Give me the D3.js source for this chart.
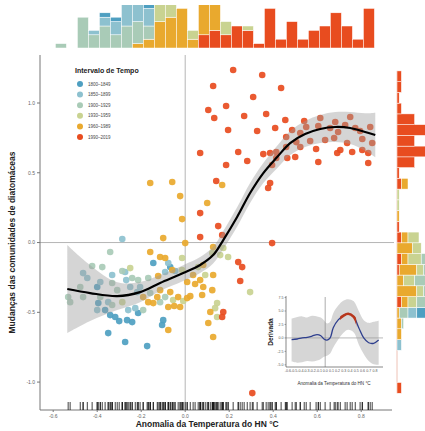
<html>
<head>
<script src="https://d3js.org/d3.v7.min.js"></script>
<style>
  body { margin: 0; padding: 0; background: #fff; }
  svg text { font-family: "Liberation Sans", Arial, sans-serif; }
</style>
</head>
<body>
<svg id="chart" width="425" height="431"></svg>
<script>
// time intervals (legend) and colours
const periods = ["1800–1849", "1850–1899", "1900–1929", "1930–1959", "1960–1989", "1990–2019"];
const periodColors = ["#4e9fc1", "#8dc1cf", "#a9cbb7", "#c9d391", "#e9a92e", "#e84c1f"];

// scatter points [temperature anomaly, community change] per interval
const points1 = [[-0.145,-0.147],[-0.068,-0.176],[-0.400,-0.319],[-0.395,-0.434],[-0.364,-0.484],[-0.341,-0.520],[-0.318,-0.534],[-0.300,-0.563],[-0.264,-0.556],[-0.241,-0.570],[-0.214,-0.505],[-0.100,-0.556],[-0.105,-0.591],[-0.350,-0.649],[-0.273,-0.713],[-0.173,-0.742]];
const points2 = [[-0.286,0.025],[-0.077,-0.147],[-0.464,-0.219],[-0.445,-0.254],[-0.091,-0.211],[-0.045,-0.204],[-0.268,-0.269],[-0.386,-0.283],[-0.250,-0.319],[-0.218,-0.355],[-0.350,-0.427],[-0.400,-0.484],[-0.259,-0.484],[-0.227,-0.470],[-0.332,-0.233],[-0.273,-0.211],[-0.205,-0.319]];
const points3 = [[-0.341,-0.068],[-0.423,-0.168],[-0.377,-0.176],[-0.241,-0.254],[-0.286,-0.204],[-0.332,-0.290],[-0.309,-0.341],[-0.532,-0.391],[-0.523,-0.427],[-0.464,-0.391],[-0.332,-0.448],[-0.159,-0.362],[-0.114,-0.427],[-0.091,-0.391],[-0.191,-0.484],[-0.477,-0.319],[-0.386,-0.391],[-0.214,-0.269],[-0.168,-0.254]];
const points4 = [[0.173,-0.039],[-0.014,-0.111],[0.123,-0.075],[0.159,-0.090],[0.195,-0.104],[0.295,-0.355],[-0.014,-0.197],[0.059,-0.176],[0.091,-0.233],[-0.250,-0.183],[-0.286,-0.427],[-0.055,-0.412],[-0.009,-0.419],[0.145,-0.434],[0.136,-0.470],[0.145,-0.534]];
const points5 = [[-0.159,0.427],[-0.059,0.434],[-0.023,0.333],[0.168,0.412],[0.100,0.283],[-0.014,0.168],[-0.100,0.032],[0.000,-0.004],[0.127,-0.032],[-0.159,-0.068],[-0.114,-0.104],[-0.091,-0.111],[-0.123,-0.240],[0.036,-0.233],[0.082,-0.161],[0.127,-0.233],[0.082,-0.319],[0.123,-0.341],[0.077,-0.376],[0.009,-0.283],[0.045,-0.297],[-0.191,-0.391],[-0.168,-0.427],[-0.127,-0.391],[-0.068,-0.355],[-0.032,-0.391],[0.009,-0.398],[-0.023,-0.462],[-0.050,-0.455],[-0.077,-0.462],[0.023,-0.384],[-0.145,-0.434],[0.114,-0.498],[0.105,-0.577],[0.127,-0.677],[-0.077,-0.627],[-0.059,-0.197],[0.068,-0.269],[-0.114,-0.341]];
const points6 = [[0.218,1.237],[0.350,1.201],[0.127,1.122],[0.436,1.108],[0.309,1.043],[0.186,0.979],[0.105,0.950],[0.132,0.892],[0.268,0.907],[0.368,0.921],[0.455,0.878],[0.541,0.871],[0.614,0.892],[0.682,0.864],[0.750,0.900],[0.486,0.806],[0.550,0.828],[0.605,0.835],[0.659,0.821],[0.727,0.842],[0.795,0.799],[0.841,0.828],[0.523,0.785],[0.695,0.792],[0.773,0.821],[0.409,0.821],[0.195,0.806],[0.327,0.799],[0.850,0.713],[0.805,0.742],[0.636,0.735],[0.568,0.728],[0.459,0.756],[0.736,0.713],[0.505,0.720],[0.677,0.749],[0.805,0.663],[0.705,0.663],[0.595,0.670],[0.523,0.685],[0.459,0.685],[0.414,0.649],[0.068,0.642],[0.241,0.649],[0.355,0.634],[0.386,0.642],[0.691,0.642],[0.759,0.649],[0.832,0.642],[0.414,0.606],[0.464,0.606],[0.500,0.613],[0.605,0.577],[0.832,0.570],[0.395,0.556],[0.186,0.556],[0.282,0.584],[0.141,0.441],[0.386,0.427],[0.377,0.391],[0.068,0.211],[0.150,0.118],[0.168,0.054],[0.068,0.039],[0.395,-0.004],[0.241,-0.140],[0.259,-0.176],[0.250,-0.276],[0.173,-0.498],[0.168,-0.534],[0.305,-1.079]];
const allPoints = [points1, points2, points3, points4, points5, points6];

// smooth fit and its confidence band
const fitX  = [-0.536,-0.432,-0.309,-0.205,-0.114,-0.009,0.068,0.127,0.173,0.236,0.295,0.355,0.418,0.477,0.545,0.614,0.682,0.750,0.818,0.864];
const fitY  = [-0.333,-0.362,-0.384,-0.355,-0.290,-0.219,-0.161,-0.090,0.018,0.183,0.355,0.498,0.613,0.713,0.778,0.814,0.828,0.821,0.792,0.771];
const fitLo = [-0.648,-0.562,-0.484,-0.427,-0.347,-0.276,-0.218,-0.150,-0.047,0.113,0.283,0.426,0.533,0.627,0.685,0.714,0.721,0.706,0.657,0.611];
const fitHi = [-0.018,-0.162,-0.284,-0.283,-0.233,-0.162,-0.104,-0.030,0.083,0.253,0.427,0.570,0.693,0.799,0.871,0.914,0.935,0.936,0.927,0.931];

// top marginal histogram (x bins), counts per interval
const topBinStart = -0.59, topBinWidth = 0.05;
const topCounts = [
  [0,0,0,0,1,1,2,2,2,0,0,0,0,0,0,0,0,0,0,0,0,0,0,0,0,0,0,0,0],
  [0,0,0,1,2,3,5,4,4,0,0,0,0,0,0,0,0,0,0,0,0,0,0,0,0,0,0,0,0],
  [1,0,7,3,5,3,5,5,3,1,1,0,0,0,0,0,0,0,0,0,0,0,0,0,0,0,0,0,0],
  [0,0,0,0,0,0,0,0,0,4,3,0,2,0,0,3,0,1,0,0,0,0,0,0,0,0,0,0,0],
  [0,0,0,0,0,0,0,1,2,6,7,9,2,8,7,0,0,0,0,0,0,0,0,0,0,0,0,0,0],
  [0,0,0,0,0,0,0,0,0,0,0,0,0,3,4,3,5,4,1,9,2,6,2,4,5,8,5,2,9]
];

// right marginal histogram (y bins), counts per interval
const rightBinStart = -1.08, rightBinWidth = 0.077;
const rightCounts = [
  [0,0,0,0,0,0,0,4,2,1,0,0,0,0,0,0,0,0,0,0,0,0,0,0,0,0,0,0,0,0],
  [0,0,0,0,2,0,0,4,3,3,3,2,0,0,0,0,0,0,0,0,0,0,0,0,0,0,0,0,0,0],
  [0,0,0,0,0,0,1,4,5,4,5,4,2,0,0,0,0,0,0,0,0,0,0,0,0,0,0,0,0,0],
  [0,0,0,0,0,0,0,0,4,3,5,3,6,4,5,0,0,1,1,0,0,0,0,0,0,0,0,0,0,0],
  [0,0,0,0,0,2,2,1,3,9,3,8,3,7,3,0,1,0,0,3,0,0,0,0,0,0,0,0,0,0],
  [2,0,0,0,0,0,0,0,2,0,0,1,2,0,2,1,0,0,0,2,1,8,13,8,13,8,2,1,2,2]
];

const xTicks = [-0.6, -0.4, -0.2, 0, 0.2, 0.4, 0.6, 0.8];
const yTicks = [-1, -0.5, 0, 0.5, 1];

// inset: derivative of the fit
const derivX  = [-0.54,-0.45,-0.37,-0.29,-0.21,-0.13,-0.07,-0.02,0.03,0.08,0.13,0.21,0.29,0.37,0.46,0.54,0.62,0.70,0.78,0.86];
const derivY  = [-0.3,-0.2,0.0,0.1,0.35,0.6,0.4,-0.2,-0.4,0.0,1.9,3.35,4.1,4.5,3.9,1.9,0.0,-0.9,-1.0,-0.4];
const derivLo = [-4.4,-4.6,-4.5,-4.3,-4.4,-4.2,-3.9,-3.5,-3.3,-2.9,-1.8,-0.3,0.9,1.5,1.0,-1.2,-3.0,-4.3,-4.9,-5.0];
const derivHi = [3.6,3.9,4.0,3.8,4.1,4.0,3.8,3.3,2.7,3.0,4.6,6.0,6.9,7.2,6.8,5.0,3.3,2.8,3.0,3.2];
const significantRange = [0.24, 0.5];
const insetXTicks = [-0.6,-0.5,-0.4,-0.3,-0.2,-0.1,0,0.1,0.2,0.3,0.4,0.5,0.6,0.7,0.8];
const insetYTicks = [-5, -2.5, 0, 2.5, 5, 7.5];

const svg = d3.select("#chart");
const fmt = (d) => d3.format(".1f")(d).replace("−", "-");

const x = d3.scaleLinear().domain([-0.66, 0.94]).range([40, 392]);
const y = d3.scaleLinear().domain([-1.2, 1.344]).range([410, 55]);

// reference lines
svg.append("line").attr("x1", x(0)).attr("x2", x(0)).attr("y1", 55).attr("y2", 410)
  .attr("stroke", "#b5b5b5").attr("stroke-width", 1);
svg.append("line").attr("x1", 40).attr("x2", 394).attr("y1", y(0)).attr("y2", y(0))
  .attr("stroke", "#b5b5b5").attr("stroke-width", 1);

// axes lines
svg.append("line").attr("x1", 40).attr("x2", 40).attr("y1", 55).attr("y2", 410).attr("stroke", "#777");
svg.append("line").attr("x1", 40).attr("x2", 392).attr("y1", 410).attr("y2", 410).attr("stroke", "#777");

// y ticks
svg.selectAll(".ytick").data(yTicks).enter().append("line")
  .attr("x1", 37).attr("x2", 40).attr("y1", (d) => y(d)).attr("y2", (d) => y(d)).attr("stroke", "#777");
svg.selectAll(".ylab").data(yTicks).enter().append("text")
  .attr("x", 35).attr("y", (d) => y(d) + 1.8).attr("text-anchor", "end")
  .attr("font-size", 5).attr("fill", "#666").text(fmt);

// x ticks
svg.selectAll(".xtick").data(xTicks).enter().append("line")
  .attr("x1", (d) => x(d)).attr("x2", (d) => x(d)).attr("y1", 410).attr("y2", 412).attr("stroke", "#777");
svg.selectAll(".xlab").data(xTicks).enter().append("text")
  .attr("x", (d) => x(d)).attr("y", 417.5).attr("text-anchor", "middle")
  .attr("font-size", 5).attr("fill", "#666").text(fmt);

// axis titles
svg.append("text").attr("x", x(0.1)).attr("y", 427).attr("text-anchor", "middle")
  .attr("font-size", 8.5).attr("font-weight", "bold").attr("fill", "#222")
  .text("Anomalia da Temperatura do HN °C");
svg.append("text").attr("transform", `translate(15,${y(0)}) rotate(-90)`).attr("text-anchor", "middle")
  .attr("font-size", 8.5).attr("font-weight", "bold").attr("fill", "#222")
  .text("Mudanças das comunidades de diatomáceas");

// scatter points
allPoints.forEach((pts, i) => {
  svg.append("g").selectAll("circle").data(pts).enter().append("circle")
    .attr("cx", (d) => x(d[0])).attr("cy", (d) => y(d[1])).attr("r", 3.3)
    .attr("fill", periodColors[i]).attr("opacity", 0.92);
});

// rug
const rugXs = allPoints.flat().map((d) => d[0]);
svg.append("g").selectAll("line").data(rugXs).enter().append("line")
  .attr("x1", (d) => x(d)).attr("x2", (d) => x(d)).attr("y1", 402).attr("y2", 410)
  .attr("stroke", "#111").attr("stroke-width", 0.8);

// fit band + line
const fitRows = fitX.map((v, i) => ({ x: v, y: fitY[i], lo: fitLo[i], hi: fitHi[i] }));
svg.append("path").datum(fitRows)
  .attr("d", d3.area().x((d) => x(d.x)).y0((d) => y(d.lo)).y1((d) => y(d.hi)).curve(d3.curveCatmullRom))
  .attr("fill", "#9a9a9a").attr("opacity", 0.42);
svg.append("path").datum(fitRows)
  .attr("d", d3.line().x((d) => x(d.x)).y((d) => y(d.y)).curve(d3.curveCatmullRom))
  .attr("fill", "none").attr("stroke", "#000").attr("stroke-width", 2.2);

// legend
const lg = svg.append("g");
lg.append("text").attr("x", 75).attr("y", 73).attr("font-size", 7).attr("font-weight", "bold")
  .attr("fill", "#222").text("Intervalo de Tempo");
periods.forEach((p, i) => {
  lg.append("circle").attr("cx", 80).attr("cy", 84 + i * 10.6).attr("r", 3).attr("fill", periodColors[i]);
  lg.append("text").attr("x", 88).attr("y", 85.6 + i * 10.6).attr("font-size", 4.5)
    .attr("fill", "#444").text(p);
});

// top histogram
svg.append("defs").append("clipPath").attr("id", "topclip")
  .append("rect").attr("x", 0).attr("y", 5).attr("width", 425).attr("height", 50);
const hTop = d3.scaleLinear().domain([0, 10]).range([48, 4]);
const topG = svg.append("g").attr("clip-path", "url(#topclip)");
topCounts[0].forEach((_, b) => {
  let acc = 0;
  const x0 = topBinStart + b * topBinWidth;
  for (let p = 5; p >= 0; p--) {
    const c = topCounts[p][b];
    if (!c) continue;
    topG.append("rect").attr("x", x(x0)).attr("width", x(x0 + topBinWidth) - x(x0))
      .attr("y", hTop(acc + c)).attr("height", hTop(acc) - hTop(acc + c))
      .attr("fill", periodColors[p]).attr("stroke", "#fff").attr("stroke-width", 0.5);
    acc += c;
  }
});

// right histogram
const hRight = d3.scaleLinear().domain([0, 10]).range([397, 419]);
svg.append("line").attr("x1", 397).attr("x2", 397)
  .attr("y1", y(rightBinStart)).attr("y2", y(rightBinStart + 30 * rightBinWidth))
  .attr("stroke", "#eab3a3").attr("stroke-width", 0.8);
const rightG = svg.append("g");
rightCounts[0].forEach((_, b) => {
  let acc = 0;
  const y0 = rightBinStart + b * rightBinWidth;
  for (let p = 5; p >= 0; p--) {
    const c = rightCounts[p][b];
    if (!c) continue;
    rightG.append("rect").attr("y", y(y0 + rightBinWidth)).attr("height", y(y0) - y(y0 + rightBinWidth))
      .attr("x", hRight(acc)).attr("width", hRight(acc + c) - hRight(acc))
      .attr("fill", periodColors[p]).attr("stroke", "#fff").attr("stroke-width", 0.5);
    acc += c;
  }
});

// inset
const ins = svg.append("g");
ins.append("rect").attr("x", 262).attr("y", 290).attr("width", 130).attr("height", 100).attr("fill", "#fff");
const ix = d3.scaleLinear().domain([-0.63, 0.93]).range([286, 383]);
const iy = d3.scaleLinear().domain([-5.4, 7.6]).range([367, 297]);
const derivRows = derivX.map((v, i) => ({ x: v, y: derivY[i], lo: derivLo[i], hi: derivHi[i] }));
ins.append("path").datum(derivRows)
  .attr("d", d3.area().x((d) => ix(d.x)).y0((d) => iy(d.lo)).y1((d) => iy(d.hi)).curve(d3.curveCatmullRom))
  .attr("fill", "#d6d6d6");
ins.append("line").attr("x1", 286).attr("x2", 383).attr("y1", iy(0)).attr("y2", iy(0))
  .attr("stroke", "#999").attr("stroke-width", 0.7);
ins.append("line").attr("x1", ix(0)).attr("x2", ix(0)).attr("y1", 297).attr("y2", 367)
  .attr("stroke", "#888").attr("stroke-width", 0.7);
const dLine = d3.line().x((d) => ix(d.x)).y((d) => iy(d.y)).curve(d3.curveCatmullRom);
ins.append("path").datum(derivRows).attr("d", dLine)
  .attr("fill", "none").attr("stroke", "#2e3f8e").attr("stroke-width", 1.3);
svg.select("defs").append("clipPath").attr("id", "sigclip")
  .append("rect").attr("x", ix(significantRange[0])).attr("y", 290)
  .attr("width", ix(significantRange[1]) - ix(significantRange[0])).attr("height", 100);
ins.append("path").datum(derivRows).attr("d", dLine).attr("clip-path", "url(#sigclip)")
  .attr("fill", "none").attr("stroke", "#b8361b").attr("stroke-width", 2.6);
ins.append("line").attr("x1", 286).attr("x2", 286).attr("y1", 296).attr("y2", 367).attr("stroke", "#555").attr("stroke-width", 0.7);
ins.append("line").attr("x1", 286).attr("x2", 383).attr("y1", 367).attr("y2", 367).attr("stroke", "#555").attr("stroke-width", 0.7);
ins.selectAll(".iyl").data(insetYTicks).enter().append("text")
  .attr("x", 283.5).attr("y", (d) => iy(d) + 1.2).attr("text-anchor", "end")
  .attr("font-size", 3.6).attr("fill", "#555").text(fmt);
ins.selectAll(".iyt").data(insetYTicks).enter().append("line")
  .attr("x1", 284.5).attr("x2", 286).attr("y1", (d) => iy(d)).attr("y2", (d) => iy(d)).attr("stroke", "#555").attr("stroke-width", 0.5);
ins.selectAll(".ixl").data(insetXTicks).enter().append("text")
  .attr("x", (d) => ix(d)).attr("y", 372).attr("text-anchor", "middle")
  .attr("font-size", 3.6).attr("fill", "#555").text(fmt);
ins.append("text").attr("x", 334).attr("y", 385).attr("text-anchor", "middle")
  .attr("font-size", 4.6).attr("fill", "#333").text("Anomalia da Temperatura do HN °C");
ins.append("text").attr("transform", "translate(273,332) rotate(-90)").attr("text-anchor", "middle")
  .attr("font-size", 6.5).attr("font-weight", "bold").attr("fill", "#222").text("Derivada");
</script>
</body>
</html>
